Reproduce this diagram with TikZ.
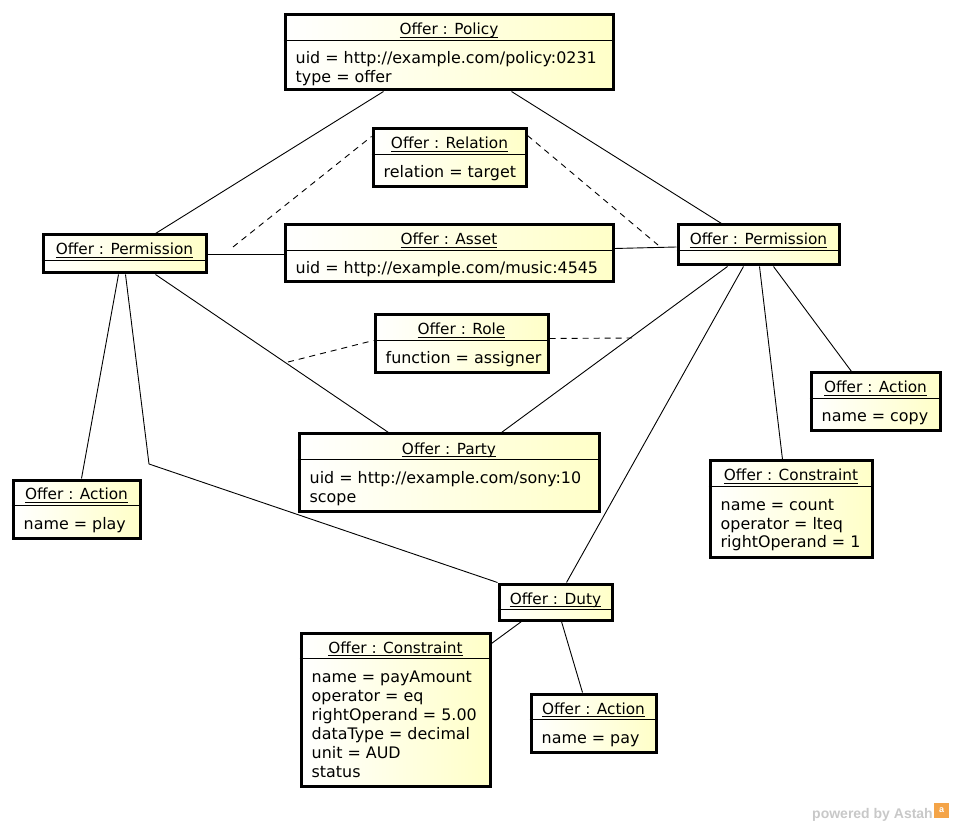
\documentclass[tikz,border=0pt]{standalone}
\usepackage{fontspec}
\setmainfont{DejaVu Sans}
\newfontfamily\wmfont{Liberation Sans}
\usepackage{tikz}
\usetikzlibrary{fit,positioning}
\definecolor{objyellow}{RGB}{255,255,200}
\definecolor{wmgray}{RGB}{200,200,200}
\definecolor{astahorange}{RGB}{244,164,72}
\newcommand{\uname}[1]{\setbox0\hbox{#1}\rlap{\rule[-2.6pt]{\wd0}{0.9pt}}\box0}
\newcommand{\umlobj}[5]{%
  \node[objbox,fit={#2 #3}] (#1) {};
  \node[objname] (#1-n) at ([yshift=-21.5pt]#1.north) {\uname{#4}};
  \draw[divider] ([yshift=-27pt]#1.north west) -- ([yshift=-27pt]#1.north east);
  \node[objattr] (#1-a) at ([shift={(12pt,-50.5pt)}]#1.north west)
    {\begin{tabular}[t]{@{}l@{}}#5\end{tabular}};}

\begin{document}
\begin{tikzpicture}[x=1pt,y=-1pt,
  objbox/.style={draw,line width=3pt,inner sep=0pt,left color=white,right color=objyellow},
  objname/.style={anchor=base,inner sep=0pt,font=\fontsize{15.3}{19}\selectfont},
  objattr/.style={anchor=base west,inner sep=0pt,font=\fontsize{15.9}{19}\selectfont},
  divider/.style={line width=0.8pt},
  link/.style={line width=0.9pt},
  assoc/.style={link,dash pattern=on 6pt off 5pt},
  wm/.style={font=\wmfont\bfseries\fontsize{14}{16}\selectfont,text=wmgray,inner sep=0pt,anchor=base east},
  logo/.style={fill=astahorange,text=white,inner sep=0pt,minimum size=15pt,font=\wmfont\bfseries\small}
]
\useasboundingbox (0,0) rectangle (954,826);

\umlobj{pol}{(285,15)}{(613,90)}{Offer : Policy}{uid = http://example.com/policy:0231\\type = offer}
\umlobj{rel}{(373,129)}{(526,187)}{Offer : Relation}{relation = target}
\umlobj{perL}{(43,235)}{(206,273)}{Offer : Permission}{}
\umlobj{asset}{(285,225)}{(613,282)}{Offer : Asset}{uid = http://example.com/music:4545}
\umlobj{perR}{(678,225)}{(839,265)}{Offer : Permission}{}
\umlobj{role}{(375,315)}{(548,373)}{Offer : Role}{function = assigner}
\umlobj{actR}{(811,373)}{(940,431)}{Offer : Action}{name = copy}
\umlobj{party}{(299,434)}{(599,511)}{Offer : Party}{uid = http://example.com/sony:10\\scope}
\umlobj{actL}{(13,480)}{(140,538)}{Offer : Action}{name = play}
\umlobj{conR}{(710,461)}{(872,557)}{Offer : Constraint}{name = count\\operator = lteq\\rightOperand = 1}
\umlobj{duty}{(499,584)}{(612,620)}{Offer : Duty}{}
\umlobj{conB}{(301,633)}{(490,786)}{Offer : Constraint}{name = payAmount\\operator = eq\\rightOperand = 5.00\\dataType = decimal\\unit = AUD\\status}
\umlobj{actB}{(531,694)}{(656,752)}{Offer : Action}{name = pay}

\coordinate (relL) at (233,247);
\coordinate (relR) at (658,245);
\coordinate (roleL) at (288,362);
\coordinate (roleR) at (632,338);
\coordinate (dutybend) at (149,464);

\draw[link] ([xshift=100pt]pol.south west) -- ([xshift=114pt]perL.north west);
\draw[link] ([xshift=228pt]pol.south west) -- ([xshift=45pt]perR.north west);
\draw[link] (perL.east) -- (perL.east -| asset.west);
\draw[link] ([yshift=5pt]asset.east) -- ([yshift=-2pt]perR.west);
\draw[link] ([xshift=114pt]perL.south west) -- ([xshift=91pt]party.north west);
\draw[link] ([xshift=51pt]perR.south west) -- ([xshift=204pt]party.north west);
\draw[link] ([xshift=77pt]perL.south west) -- ([xshift=70pt]actL.north west);
\draw[link] ([xshift=84pt]perL.south west) -- (dutybend) -- (duty.north west);
\draw[link] ([xshift=67pt]perR.south west) -- ([xshift=69pt]duty.north west);
\draw[link] ([xshift=83pt]perR.south west) -- ([xshift=74pt]conR.north west);
\draw[link] ([xshift=97pt]perR.south west) -- ([xshift=42pt]actR.north west);
\draw[link] ([xshift=24pt]duty.south west) -- ([yshift=-12pt]conB.north east);
\draw[link] ([xshift=64pt]duty.south west) -- ([xshift=53pt]actB.north west);

\draw[assoc] (relL) -- ([yshift=-9pt]rel.north west);
\draw[assoc] ([yshift=-8pt]rel.north east) -- (relR);
\draw[assoc] (roleL) -- ([yshift=-27pt]role.north west);
\draw[assoc] ([yshift=-25pt]role.north east) -- (roleR);

\node[wm] (powered) at (933,818) {powered by Astah};
\node[logo,right=1pt of powered.east,anchor=west,yshift=4pt] (logo) {a};
\end{tikzpicture}
\end{document}
